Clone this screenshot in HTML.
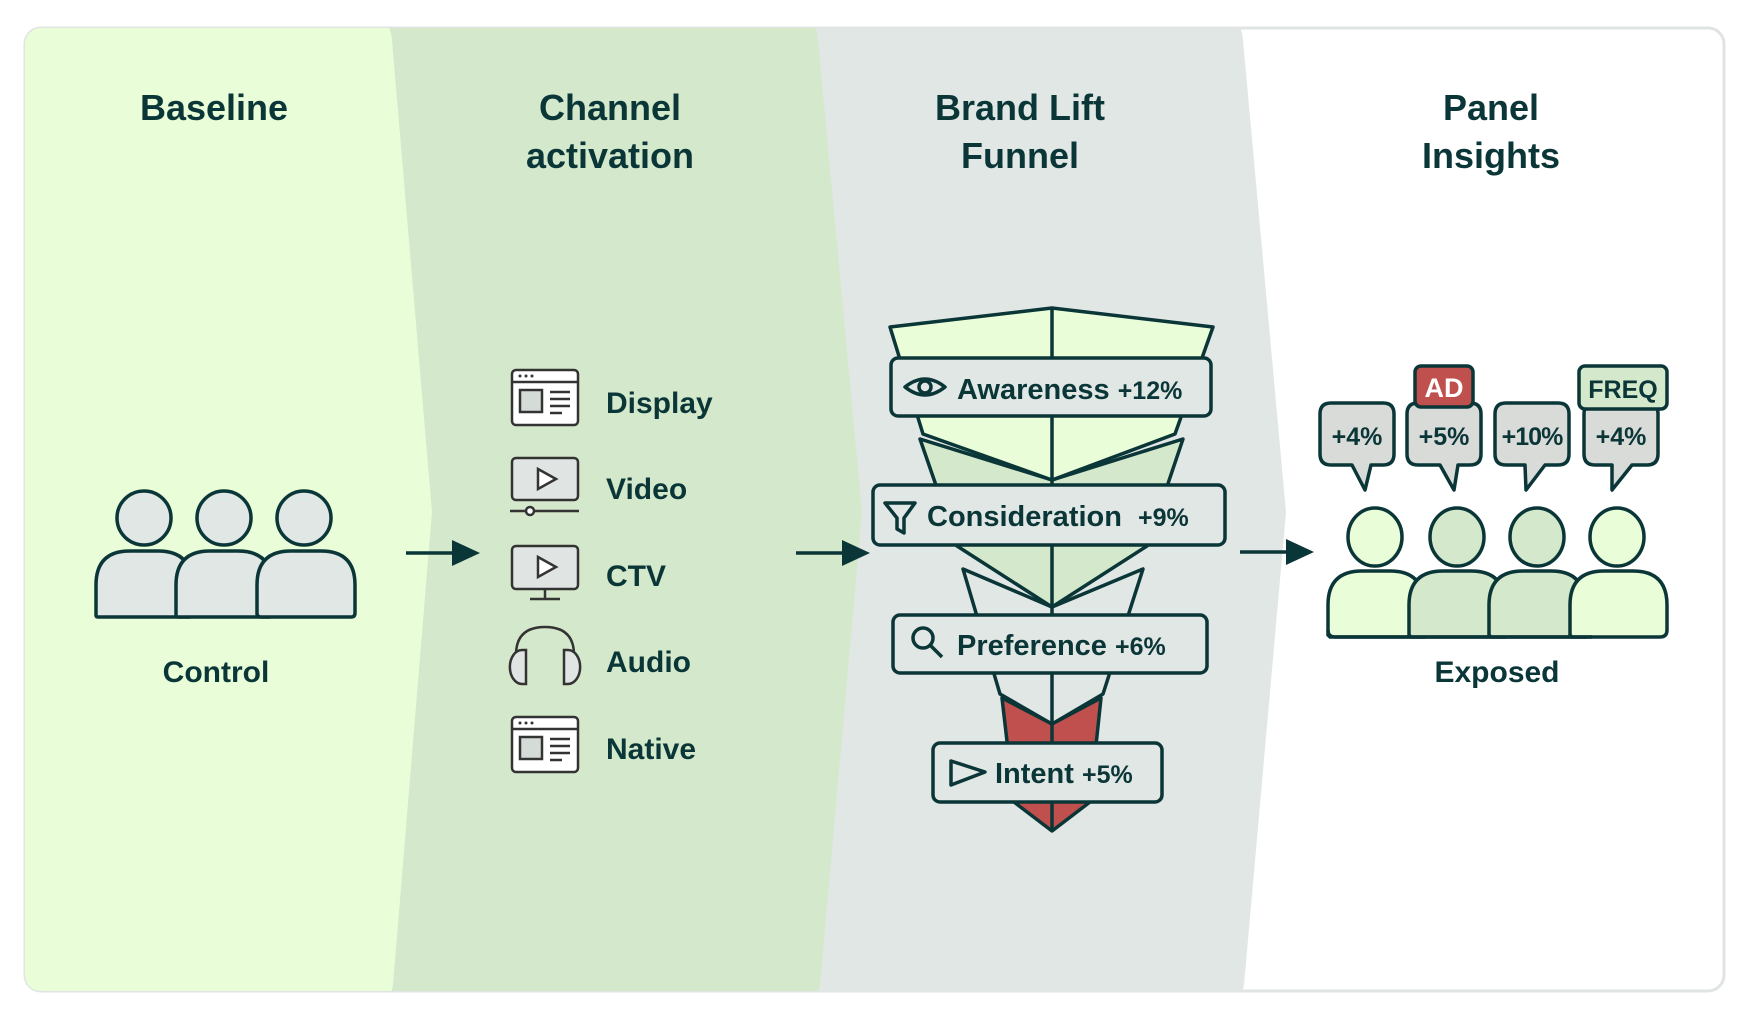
<!DOCTYPE html>
<html><head><meta charset="utf-8"><style>
html,body{margin:0;padding:0;background:#fff;}
svg{display:block;}
text{font-family:"Liberation Sans",sans-serif;font-weight:bold;fill:#0b3638;}
</style></head><body>
<svg width="1756" height="1014" viewBox="0 0 1756 1014" xmlns="http://www.w3.org/2000/svg">
<defs><clipPath id="c"><rect x="25" y="28" width="1706" height="963" rx="16"/></clipPath></defs>
<rect x="25" y="28" width="1699" height="963" rx="16" fill="#fff" stroke="#e0e4e2" stroke-width="3"/>
<g clip-path="url(#c)">
<path d="M20 20 H1232 Q1242 25 1243 40 L1286 512 L1244 985 Q1243 995 1232 1000 H20 Z" fill="#e1e7e4"/>
<path d="M20 20 H807 Q817 25 818 40 L862 512 L820 985 Q819 995 809 1000 H20 Z" fill="#d4e8cb"/>
<path d="M20 20 H381 Q391 25 392 40 L432 512 L393 985 Q392 995 382 1000 H20 Z" fill="#e9fdd9"/>
</g>
<!-- titles -->
<text x="214" y="120" font-size="36" text-anchor="middle">Baseline</text>
<text x="610" y="120" font-size="36" text-anchor="middle">Channel</text>
<text x="610" y="168" font-size="36" text-anchor="middle">activation</text>
<text x="1020" y="120" font-size="36" text-anchor="middle">Brand Lift</text>
<text x="1020" y="168" font-size="36" text-anchor="middle">Funnel</text>
<text x="1491" y="120" font-size="36" text-anchor="middle">Panel</text>
<text x="1491" y="168" font-size="36" text-anchor="middle">Insights</text>
<!-- control people -->
<g stroke="#0b3638" stroke-width="3.5" fill="#e1e7e4">
<circle cx="144" cy="518" r="27"/><circle cx="224" cy="518" r="27"/><circle cx="304" cy="518" r="27"/>
<path d="M96 615 V585 Q96 551 130 551 H158 Q192 551 192 585 V615 Q192 617 190 617 H98 Q96 617 96 615Z"/>
<path d="M176 615 V585 Q176 551 210 551 H238 Q272 551 272 585 V615 Q272 617 270 617 H178 Q176 617 176 615Z"/>
<path d="M257 615 V585 Q257 551 291 551 H321 Q355 551 355 585 V613 Q355 617 351 617 H261 Q257 617 257 613Z"/>
</g>
<text x="216" y="682" font-size="30" text-anchor="middle">Control</text>
<!-- arrows -->
<g stroke="#0b3638" stroke-width="3.5" fill="#0b3638">
<line x1="406" y1="553" x2="460" y2="553"/><path d="M452 540 L480 553 L452 566Z" stroke="none"/>
<line x1="796" y1="553" x2="850" y2="553"/><path d="M842 540 L870 553 L842 566Z" stroke="none"/>
<line x1="1240" y1="552" x2="1294" y2="552"/><path d="M1286 539 L1314 552 L1286 565Z" stroke="none"/>
</g>
<!-- channel icons -->
<g stroke="#333" stroke-width="2.5" fill="#fff">
<rect x="512" y="370" width="66" height="55" rx="4"/><line x1="512" y1="382" x2="578" y2="382"/>
<rect x="520" y="390" width="22" height="22" fill="#d5dcd8"/>
<path d="M550 392h20M550 399h20M550 406h20M550 413h12" fill="none"/>
<rect x="512" y="458" width="66" height="42" rx="4" fill="#e0e4e2"/>
<path d="M538 469 L556 479 L538 489Z" fill="#fff"/>
<line x1="510" y1="511" x2="579" y2="511"/><circle cx="530" cy="511" r="4"/>
<rect x="512" y="546" width="66" height="43" rx="4" fill="#e0e4e2"/>
<path d="M538 557 L556 567 L538 577Z" fill="#fff"/>
<path d="M545 589v9M530 599h30" fill="none"/>
<path d="M516 665 V655 Q516 627 545 627 Q574 627 574 655 V665" fill="none"/>
<path d="M526 650 h-4 a10 14 0 0 0 0 34 h4Z" fill="#e0e4e2"/>
<path d="M564 650 h4 a10 14 0 0 1 0 34 h-4Z" fill="#e0e4e2"/>
<rect x="512" y="717" width="66" height="55" rx="4"/><line x1="512" y1="729" x2="578" y2="729"/>
<rect x="520" y="737" width="22" height="22" fill="#d5dcd8"/>
<path d="M550 739h20M550 746h20M550 753h20M550 760h12" fill="none"/>
</g>
<g fill="#333"><circle cx="520" cy="376" r="1.5"/><circle cx="526" cy="376" r="1.5"/><circle cx="532" cy="376" r="1.5"/>
<circle cx="520" cy="723" r="1.5"/><circle cx="526" cy="723" r="1.5"/><circle cx="532" cy="723" r="1.5"/></g>
<text x="606" y="413" font-size="30">Display</text>
<text x="606" y="499" font-size="30">Video</text>
<text x="606" y="586" font-size="30">CTV</text>
<text x="606" y="672" font-size="30">Audio</text>
<text x="606" y="759" font-size="30">Native</text>
<!-- funnel -->
<g transform="translate(-5,-2)">
<g stroke="#0b3638" stroke-width="3.5" stroke-linejoin="round">
<path d="M1007 700 L1057 726 L1106 700 L1095 804 L1057 833 L1019 804Z" fill="#c0504d"/>
<path d="M968 571 L1057 609 L1148 571 L1108 696 L1057 726 L1005 696Z" fill="#e1e7e4"/>
<path d="M925 441 L1057 482 L1188 441 L1152 548 L1057 609 L962 548Z" fill="#d4e8cb"/>
<path d="M895 329 L1057 310 L1218 329 L1180 436 L1057 482 L928 436Z" fill="#e9fdd9"/>
<line x1="1057" y1="310" x2="1057" y2="833"/>
<rect x="896" y="360" width="320" height="58" rx="7" fill="#e1e7e4"/>
<rect x="878" y="487" width="352" height="60" rx="7" fill="#e1e7e4"/>
<rect x="898" y="617" width="314" height="58" rx="7" fill="#e1e7e4"/>
<rect x="938" y="745" width="229" height="59" rx="7" fill="#e1e7e4"/>
</g>
<g stroke="#0b3638" stroke-width="3.5" fill="none" stroke-linejoin="round">
<path d="M910 389 Q930 373 950 389 Q930 405 910 389Z"/><circle cx="930" cy="389" r="6"/>
<path d="M890 505 L920 505 L909 520 L909 535 L902 531 L902 520 Z"/>
<circle cx="928" cy="640" r="10"/><path d="M935 647 L947 659"/>
<path d="M956 763 L990 774 L956 787Z"/>
</g>
<text x="962" y="401" font-size="29">Awareness <tspan font-size="25">+12%</tspan></text>
<text x="932" y="528" font-size="29">Consideration <tspan font-size="25" dx="8">+9%</tspan></text>
<text x="962" y="657" font-size="29">Preference <tspan font-size="25">+6%</tspan></text>
<text x="1000" y="785" font-size="29">Intent <tspan font-size="25">+5%</tspan></text>
</g>
<!-- right section -->
<g transform="translate(-8,0)">
<g stroke="#0b3638" stroke-width="3.5" fill="#d9dbd9" stroke-linejoin="round">
<path d="M1339 403 H1391 Q1402 403 1402 414 V454 Q1402 465 1391 465 H1379 L1373 490 L1360 465 H1339 Q1328 465 1328 454 V414 Q1328 403 1339 403Z"/>
<path d="M1426 403 H1478 Q1489 403 1489 414 V454 Q1489 465 1478 465 H1466 L1462 490 L1448 465 H1426 Q1415 465 1415 454 V414 Q1415 403 1426 403Z"/>
<path d="M1514 403 H1566 Q1577 403 1577 414 V454 Q1577 465 1566 465 H1553 L1534 490 L1533 465 H1514 Q1503 465 1503 454 V414 Q1503 403 1514 403Z"/>
<path d="M1603 403 H1655 Q1666 403 1666 414 V454 Q1666 465 1655 465 H1640 L1620 490 L1620 465 H1603 Q1592 465 1592 454 V414 Q1592 403 1603 403Z"/>
<rect x="1423" y="366" width="58" height="41" rx="6" fill="#c0504d"/>
<rect x="1587" y="366" width="88" height="43" rx="6" fill="#d4e8cb"/>
</g>
<text x="1365" y="445" font-size="25" text-anchor="middle">+4%</text>
<text x="1452" y="445" font-size="25" text-anchor="middle">+5%</text>
<text x="1540" y="445" font-size="25" text-anchor="middle" letter-spacing="-1">+10%</text>
<text x="1629" y="445" font-size="25" text-anchor="middle">+4%</text>
<text x="1452" y="397" font-size="27" text-anchor="middle" font-weight="normal" style="fill:#fff">AD</text>
<text x="1631" y="398" font-size="25" text-anchor="middle">FREQ</text>
<g stroke="#0b3638" stroke-width="3.5">
<path d="M1336 635 V605 Q1336 571 1370 571 H1398 Q1432 571 1432 605 V637 H1338Z" fill="#e9fdd9"/>
<path d="M1417 635 V605 Q1417 571 1451 571 H1479 Q1513 571 1513 605 V637 H1419Z" fill="#d4e8cb"/>
<path d="M1497 635 V605 Q1497 571 1531 571 H1559 Q1593 571 1593 605 V637 H1499Z" fill="#d4e8cb"/>
<path d="M1578 635 V605 Q1578 571 1612 571 H1641 Q1675 571 1675 605 V630 Q1675 637 1668 637 H1580Z" fill="#e9fdd9"/>
<path d="M1336 630 Q1336 637 1343 637 H1600" fill="none"/>
<ellipse cx="1383" cy="537" rx="27" ry="29" fill="#e9fdd9"/>
<ellipse cx="1465" cy="537" rx="27" ry="29" fill="#d4e8cb"/>
<ellipse cx="1545" cy="537" rx="27" ry="29" fill="#d4e8cb"/>
<ellipse cx="1625" cy="537" rx="27" ry="29" fill="#e9fdd9"/>
</g>
<text x="1505" y="682" font-size="30" text-anchor="middle">Exposed</text>
</g>
</svg>
</body></html>
